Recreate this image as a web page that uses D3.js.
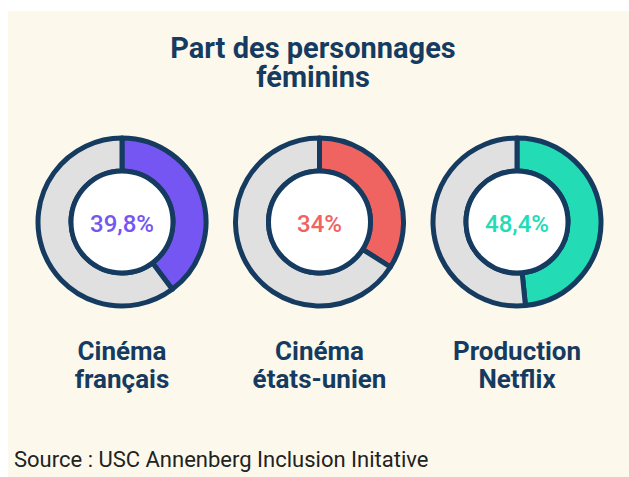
<!DOCTYPE html>
<html>
<head>
<meta charset="utf-8">
<script src="https://cdn.jsdelivr.net/npm/d3@7"></script>
<style>
  body { margin: 0; background: #fff; }
</style>
</head>
<body>
<div id="container"></div>
<script>
// parts of female characters, by category
const categories = ["Cinéma|français", "Cinéma|états-unien", "Production|Netflix"]
const values = [39.8, 34, 48.4]
const valueLabels = ["39,8%", "34%", "48,4%"]
const colors = ["#7656f2", "#ef6461", "#23dcb6"]

const width = 629
const height = 477
const navy = "#163b60"

const svg = d3.select("#container")
  .append("svg")
  .attr("width", width)
  .attr("height", height)

svg.append("rect")
  .attr("x", 8).attr("y", 11)
  .attr("width", width - 8).attr("height", height - 11)
  .attr("fill", "#fcf9ec")

// title
const title = svg.append("text")
  .attr("text-anchor", "middle")
  .attr("fill", navy)
  .style("font-family", "Roboto, sans-serif")
  .style("font-weight", 700)
  .style("font-size", "29px")
title.append("tspan").attr("x", 313).attr("y", 58).text("Part des personnages")
title.append("tspan").attr("x", 313).attr("y", 87).text("féminins")

const xScale = d3.scalePoint()
  .domain(categories)
  .range([122, 517])

const cy = 222

const arc = d3.arc()
  .innerRadius(51)
  .outerRadius(84)

const pie = d3.pie()
  .sort(null)
  .value(d => d)

const groups = svg.selectAll(".donut")
  .data(categories)
  .join("g")
  .attr("class", "donut")
  .attr("transform", d => `translate(${xScale(d)}, ${cy})`)

groups.selectAll("path")
  .data((d, i) => pie([values[i], 100 - values[i]]).map(p => ({ ...p, color: p.index == 0 ? colors[i] : "#e0e0e0" })))
  .join("path")
  .attr("d", arc)
  .attr("fill", d => d.color)
  .attr("stroke", navy)
  .attr("stroke-width", 5)
  .attr("stroke-linejoin", "round")

groups.append("circle")
  .attr("r", 51)
  .attr("fill", "#fff")
  .attr("stroke", navy)
  .attr("stroke-width", 5)

groups.append("text")
  .attr("text-anchor", "middle")
  .attr("y", 10)
  .attr("fill", (d, i) => colors[i])
  .style("font-family", "Roboto, sans-serif")
  .style("font-weight", 500)
  .style("font-size", "24px")
  .text((d, i) => valueLabels[i])

// category labels under each donut
const labels = groups.append("text")
  .attr("text-anchor", "middle")
  .attr("fill", navy)
  .style("font-family", "Roboto, sans-serif")
  .style("font-weight", 700)
  .style("font-size", "26px")
labels.append("tspan").attr("x", 0).attr("y", 138).text(d => d.split("|")[0])
labels.append("tspan").attr("x", 0).attr("y", 166).text(d => d.split("|")[1])

svg.append("text")
  .attr("x", 14)
  .attr("y", 467)
  .attr("fill", "#222")
  .style("font-family", "Roboto, sans-serif")
  .style("font-size", "22px")
  .text("Source : USC Annenberg Inclusion Initative")
</script>
</body>
</html>
